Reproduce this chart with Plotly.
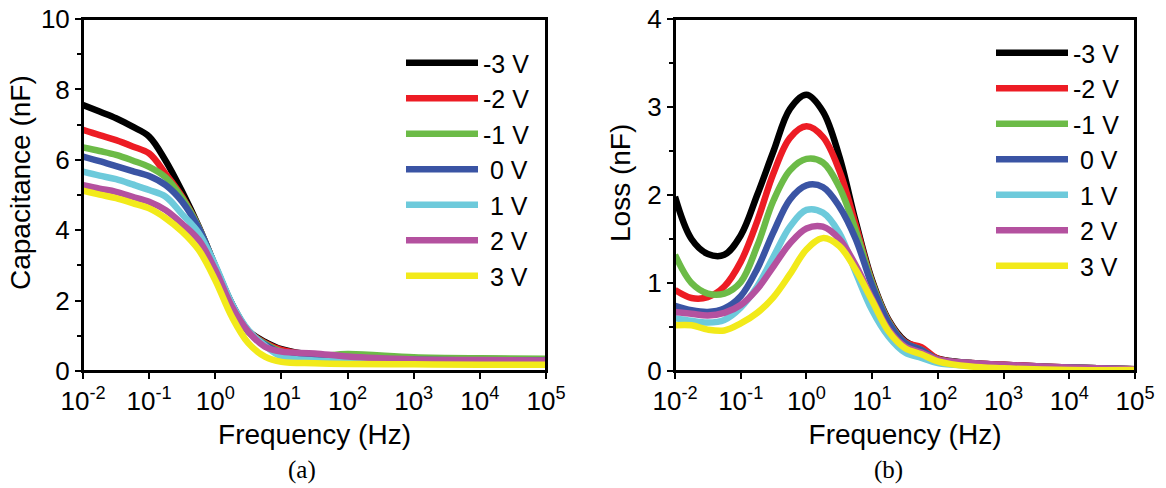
import plotly.graph_objects as go

# ---------------- data ----------------
series_names = ["-3 V", "-2 V", "-1 V", "\u00a00 V", "\u00a01 V", "\u00a02 V", "\u00a03 V"]
series_colors = ["#000000", "#ed1c24", "#6cbb47", "#3a54a4", "#6dcadb", "#b4519f", "#f2ea1a"]

# (a) capacitance vs frequency
freq_a = [0.01, 0.0178, 0.0316, 0.0562, 0.1, 0.178, 0.316, 0.562, 1, 1.78, 3.16, 5.62,
          10, 31.6, 100, 1000, 10000, 100000]
cap_m3 = [7.56, 7.37, 7.18, 6.94, 6.66, 5.97, 5.09, 4.10, 2.97, 1.90, 1.14, 0.83, 0.62, 0.45, 0.40, 0.36, 0.34, 0.33]
cap_m2 = [6.85, 6.70, 6.56, 6.38, 6.18, 5.60, 4.95, 4.08, 2.97, 1.90, 1.13, 0.80, 0.60, 0.45, 0.40, 0.35, 0.33, 0.32]
cap_m1 = [6.35, 6.25, 6.14, 5.98, 5.80, 5.50, 4.91, 4.08, 2.97, 1.90, 1.12, 0.78, 0.55, 0.42, 0.48, 0.39, 0.36, 0.35]
cap_0 = [6.09, 5.96, 5.82, 5.68, 5.54, 5.28, 4.81, 4.06, 2.98, 1.91, 1.12, 0.75, 0.52, 0.40, 0.36, 0.32, 0.30, 0.30]
cap_p1 = [5.66, 5.55, 5.45, 5.30, 5.14, 4.95, 4.45, 3.92, 3.01, 1.92, 1.16, 0.72, 0.41, 0.30, 0.28, 0.26, 0.25, 0.25]
cap_p2 = [5.28, 5.18, 5.09, 4.95, 4.81, 4.57, 4.18, 3.72, 2.87, 1.83, 1.12, 0.69, 0.55, 0.50, 0.41, 0.33, 0.31, 0.30]
cap_p3 = [5.12, 5.01, 4.91, 4.77, 4.62, 4.34, 3.96, 3.44, 2.58, 1.54, 0.79, 0.41, 0.26, 0.22, 0.20, 0.19, 0.18, 0.18]

# (b) loss vs frequency
freq_b = [0.01, 0.0178, 0.0316, 0.0562, 0.1, 0.178, 0.316, 0.562, 1, 1.78, 3.16, 5.62,
          10, 17.8, 31.6, 56.2, 100, 316, 1000, 10000, 100000]
loss_m3 = [1.98, 1.50, 1.33, 1.32, 1.54, 2.00, 2.50, 2.98, 3.14, 2.95, 2.44, 1.70, 1.03, 0.58, 0.34, 0.25, 0.14, 0.09, 0.07, 0.04, 0.02]
loss_m2 = [0.92, 0.83, 0.84, 0.96, 1.24, 1.70, 2.25, 2.65, 2.78, 2.66, 2.28, 1.66, 1.01, 0.57, 0.33, 0.27, 0.14, 0.09, 0.07, 0.04, 0.02]
loss_m1 = [1.32, 1.00, 0.88, 0.88, 1.01, 1.42, 1.94, 2.28, 2.41, 2.37, 2.09, 1.60, 1.00, 0.56, 0.32, 0.24, 0.13, 0.09, 0.06, 0.04, 0.02]
loss_0 = [0.74, 0.69, 0.67, 0.71, 0.85, 1.16, 1.58, 1.95, 2.11, 2.09, 1.87, 1.50, 0.97, 0.55, 0.32, 0.24, 0.13, 0.09, 0.06, 0.04, 0.02]
loss_p1 = [0.60, 0.57, 0.55, 0.58, 0.72, 0.96, 1.30, 1.64, 1.83, 1.80, 1.57, 1.12, 0.69, 0.39, 0.21, 0.15, 0.09, 0.06, 0.04, 0.02, 0.01]
loss_p2 = [0.67, 0.65, 0.63, 0.66, 0.75, 0.93, 1.19, 1.45, 1.62, 1.64, 1.50, 1.20, 0.82, 0.47, 0.28, 0.21, 0.13, 0.09, 0.07, 0.04, 0.02]
loss_p3 = [0.52, 0.52, 0.47, 0.46, 0.54, 0.66, 0.84, 1.10, 1.38, 1.51, 1.42, 1.15, 0.80, 0.45, 0.26, 0.19, 0.11, 0.05, 0.03, 0.01, 0.01]

x_tickvals = [1e-2, 1e-1, 1e0, 1e1, 1e2, 1e3, 1e4, 1e5]
x_ticktext = ["10<sup>-2</sup>", "10<sup>-1</sup>", "10<sup>0</sup>", "10<sup>1</sup>",
              "10<sup>2</sup>", "10<sup>3</sup>", "10<sup>4</sup>", "10<sup>5</sup>"]

cap_series = [cap_m3, cap_m2, cap_m1, cap_0, cap_p1, cap_p2, cap_p3]
loss_series = [loss_m3, loss_m2, loss_m1, loss_0, loss_p1, loss_p2, loss_p3]

# ---------------- figure ----------------
FONT = "Liberation Sans, Arial, sans-serif"
SERIF = "Liberation Serif, Times New Roman, serif"
# the page body adds an 8 px margin; work in window pixels and subtract it
OFF = 8
W, H = 1166 - OFF, 488 - OFF


def fx(px):
    return (px - OFF) / W


def fy(py):
    return 1 - (py - OFF) / H


fig = go.Figure()

for name, col, ys in zip(series_names, series_colors, cap_series):
    fig.add_trace(go.Scatter(x=freq_a, y=ys, name=name, mode="lines",
                             line=dict(color=col, width=6.5, shape="spline", smoothing=1.0),
                             xaxis="x", yaxis="y", legend="legend"))
for name, col, ys in zip(series_names, series_colors, loss_series):
    fig.add_trace(go.Scatter(x=freq_b, y=ys, name=name, mode="lines",
                             line=dict(color=col, width=6.5, shape="spline", smoothing=1.0),
                             xaxis="x2", yaxis="y2", legend="legend2"))

y_dom = [fy(371), fy(19)]
title_font = dict(family=FONT, size=28, color="black")
axis_common = dict(showline=True, linecolor="black", linewidth=2, mirror=True,
                   ticks="outside", ticklen=6, tickwidth=2, tickcolor="black",
                   showgrid=False, zeroline=False, automargin=False, ticklabeloverflow="allow",
                   tickfont=dict(family=FONT, size=26, color="black"))
xcommon = dict(axis_common, type="log", range=[-2, 5], tickvals=x_tickvals, ticktext=x_ticktext,
               title=dict(text="Frequency (Hz)", font=title_font, standoff=9))

# frame of each panel (drawn as shapes so the top edge is always visible)
frames = [
    dict(type="rect", xref="x domain", yref="y domain", x0=0, x1=1, y0=0, y1=1,
         line=dict(color="black", width=2), fillcolor="rgba(0,0,0,0)", layer="above"),
    dict(type="rect", xref="x2 domain", yref="y2 domain", x0=0, x1=1, y0=0, y1=1,
         line=dict(color="black", width=2), fillcolor="rgba(0,0,0,0)", layer="above"),
]

fig.update_layout(
    width=W, height=H,
    margin=dict(l=0, r=0, t=0, b=0, autoexpand=False),
    paper_bgcolor="white", plot_bgcolor="white",
    font=dict(family=FONT, color="black"),
    xaxis=dict(xcommon, domain=[fx(83), fx(546)], anchor="y"),
    yaxis=dict(axis_common, domain=y_dom, anchor="x", range=[0, 10], dtick=2,
               minor=dict(dtick=1, ticks="outside", ticklen=4, tickwidth=2, tickcolor="black")),
    xaxis2=dict(xcommon, domain=[fx(675), fx(1135)], anchor="y2"),
    yaxis2=dict(axis_common, domain=y_dom, anchor="x2", range=[0, 4], dtick=1,
                minor=dict(dtick=0.5, ticks="outside", ticklen=4, tickwidth=2, tickcolor="black")),
    legend=dict(x=393 / W, y=1 - 32 / H, xanchor="left", yanchor="top",
                bgcolor="rgba(0,0,0,0)", borderwidth=0, itemwidth=72,
                font=dict(family=FONT, size=25, color="black"), tracegroupgap=0),
    legend2=dict(x=983 / W, y=1 - 22 / H, xanchor="left", yanchor="top",
                 bgcolor="rgba(0,0,0,0)", borderwidth=0, itemwidth=72,
                 font=dict(family=FONT, size=25, color="black"), tracegroupgap=0),
    shapes=frames,
    annotations=[
        # y-axis titles (placed as rotated text to match the reference position)
        dict(text="Capacitance (nF)", x=fx(21), y=fy(183), xref="paper", yref="paper",
             showarrow=False, textangle=-90, xanchor="center", yanchor="middle", font=title_font),
        dict(text="Loss (nF)", x=fx(621), y=fy(183), xref="paper", yref="paper",
             showarrow=False, textangle=-90, xanchor="center", yanchor="middle", font=title_font),
        dict(text="(a)", x=fx(302), y=fy(470), xref="paper", yref="paper", showarrow=False,
             xanchor="center", yanchor="middle",
             font=dict(family=SERIF, size=25, color="black")),
        dict(text="(b)", x=fx(888), y=fy(470), xref="paper", yref="paper", showarrow=False,
             xanchor="center", yanchor="middle",
             font=dict(family=SERIF, size=25, color="black")),
    ],
)

fig.write_html("out.html")
